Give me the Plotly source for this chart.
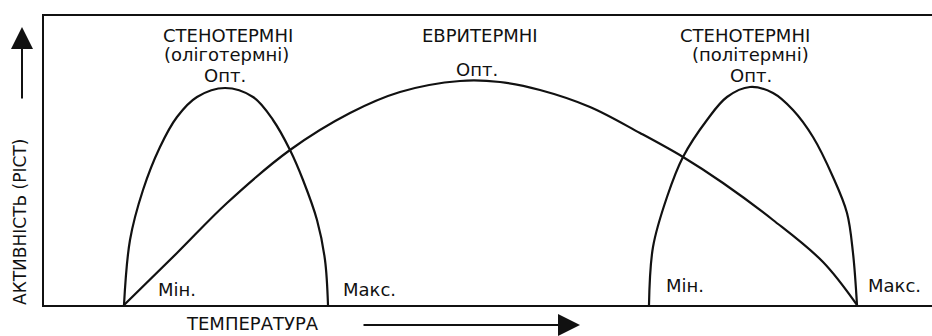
import plotly.graph_objects as go

# readings: temperature position and activity height
steno_cold_x = [124, 130, 143, 160, 177, 197, 225, 253, 273, 290, 303, 317, 325, 328]
steno_cold_y = [0, 65, 115, 158, 188, 208, 217, 208, 185, 155, 125, 85, 45, 0]

eury_x = [124, 177, 227, 290, 350, 400, 460, 500, 540, 590, 640, 683, 723, 773, 823, 857]
eury_y = [0, 52, 102, 155, 192, 213, 224, 223, 215, 198, 172, 148, 122, 85, 43, 0]

steno_warm_x = [649, 653, 667, 683, 707, 727, 750, 773, 793, 813, 833, 847, 853, 857]
steno_warm_y = [0, 58, 108, 148, 185, 208, 218, 212, 195, 168, 128, 92, 52, 0]

W, H = 932, 336
L, T, B = 44, 16, 31
PW, PH = W - L, H - T - B

FONT = "DejaVu Sans"
INK = "#111111"


def paper(x, y):
    """pixel position on the page -> paper coords"""
    return (x - L) / PW, (H - B - y) / PH


fig = go.Figure()
for xs, ys in [(steno_cold_x, steno_cold_y), (eury_x, eury_y), (steno_warm_x, steno_warm_y)]:
    fig.add_trace(go.Scatter(
        x=xs, y=ys, mode="lines",
        line=dict(color=INK, width=2.2, shape="spline", smoothing=1.0),
        hoverinfo="skip", showlegend=False
    ))

labels = [
    ("СТЕНОТЕРМНІ", 228, 35),
    ("(оліготермні)", 226, 55),
    ("Опт.", 225, 76),
    ("ЕВРИТЕРМНІ", 480, 35),
    ("Опт.", 477, 69),
    ("СТЕНОТЕРМНІ", 745, 35),
    ("(політермні)", 750, 55),
    ("Опт.", 751, 76),
    ("Мін.", 177, 289),
    ("Макс.", 369, 289),
    ("Мін.", 685, 285),
    ("Макс.", 894, 285),
    ("ТЕМПЕРАТУРА", 252, 323),
]
annotations = []
for text, x, y in labels:
    px_, py_ = paper(x, y)
    annotations.append(dict(
        text=text, x=px_, y=py_, xref="paper", yref="paper",
        xanchor="center", yanchor="middle", showarrow=False,
        font=dict(family=FONT, size=18, color=INK)
    ))

# y axis title, rotated
yx, yy = paper(20, 222)
annotations.append(dict(
    text="АКТИВНІСТЬ (РІСТ)", x=yx, y=yy, xref="paper", yref="paper",
    xanchor="center", yanchor="middle", showarrow=False, textangle=-90,
    font=dict(family=FONT, size=17, color=INK)
))

# arrows next to the axis titles
ux, uy = paper(22, 27)
annotations.append(dict(
    text="", x=ux, y=uy, xref="paper", yref="paper", showarrow=True,
    ax=0, ay=73, arrowhead=2, arrowsize=2.2, arrowwidth=2, arrowcolor=INK, standoff=0
))
rx, ry = paper(580, 325)
annotations.append(dict(
    text="", x=rx, y=ry, xref="paper", yref="paper", showarrow=True,
    ax=-218, ay=0, arrowhead=2, arrowsize=2.2, arrowwidth=2, arrowcolor=INK, standoff=0
))

fig.update_layout(
    width=W, height=H,
    margin=dict(l=L, r=0, t=T, b=B),
    paper_bgcolor="white", plot_bgcolor="white",
    annotations=annotations,
    xaxis=dict(range=[L, W], showline=True, mirror=True, linecolor=INK, linewidth=2,
               showgrid=False, zeroline=False, showticklabels=False, ticks=""),
    yaxis=dict(range=[0, PH], showline=True, mirror=False, linecolor=INK, linewidth=2,
               showgrid=False, zeroline=False, showticklabels=False, ticks=""),
)

# the page's default body margin would push the figure 8px off
fig.write_html("out.html", config={"displayModeBar": False},
               post_script="document.body.style.margin='0';")
